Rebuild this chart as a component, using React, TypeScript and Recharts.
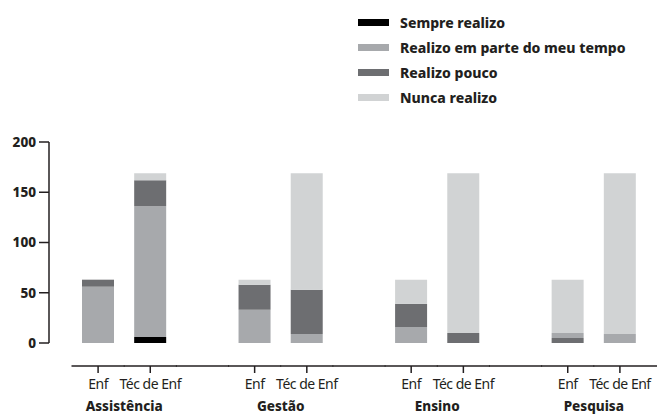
import { BarChart, Bar, XAxis, YAxis } from "recharts";

const groups = ["Assistência", "Gestão", "Ensino", "Pesquisa"];
const roles = ["Enf", "Téc de Enf"];

// one value per bar: Assistência Enf, Assistência Téc, Gestão Enf, Gestão Téc, ...
const sempre = [0, 6, 0, 0, 0, 0, 0, 0];
const poucoBase = [0, 0, 0, 0, 0, 0, 5, 0]; // Pesquisa/Enf draws "pouco" under "parte"
const parte = [56, 130, 33, 9, 16, 0, 5, 9];
const pouco = [7, 26, 25, 44, 23, 10, 0, 0];
const nunca = [0, 7, 5, 116, 24, 159, 53, 160];

const yTicks = [0, 50, 100, 150, 200];

const INK = "#231f20";
const FONT = "'Noto Sans', sans-serif";
const HEAVY = 800;

const series = [
  { key: "sempre", name: "Sempre realizo", color: "#000000", legend: true },
  { key: "poucoBase", name: "Realizo pouco", color: "#6d6e71", legend: false },
  { key: "parte", name: "Realizo em parte do meu tempo", color: "#a7a9ac", legend: true },
  { key: "pouco", name: "Realizo pouco", color: "#6d6e71", legend: true },
  { key: "nunca", name: "Nunca realizo", color: "#d1d3d4", legend: true },
];

type Row = {
  id: string;
  label: string;
  group: string;
  sempre?: number;
  poucoBase?: number;
  parte?: number;
  pouco?: number;
  nunca?: number;
};

const rows: Row[] = [];
groups.forEach((g, gi) => {
  roles.forEach((r, ri) => {
    const i = gi * 2 + ri;
    rows.push({
      id: `${g}-${r}`,
      label: r,
      group: ri === 1 ? g : "",
      sempre: sempre[i],
      poucoBase: poucoBase[i],
      parte: parte[i],
      pouco: pouco[i],
      nunca: nunca[i],
    });
  });
  if (gi < groups.length - 1) rows.push({ id: `gap-${gi}`, label: "", group: "" });
});

function GroupTick(props: any) {
  const { x, y, payload } = props;
  const idx = payload.index ?? props.index;
  const row = rows[idx];
  const off = payload.offset ?? 26;
  const last = idx === rows.length - 1;
  const ly = y + 23;
  return (
    <g>
      <line
        x1={x - off - 0.5}
        x2={x + off + (last ? 11 : 0.5)}
        y1={ly}
        y2={ly}
        stroke={INK}
        strokeWidth={1.5}
      />
      {row.label && (
        <line x1={x} x2={x} y1={ly} y2={ly + 7} stroke={INK} strokeWidth={1.5} />
      )}
      {row.label && (
        <text
          x={x}
          y={y + 46}
          textAnchor="middle"
          fontFamily={FONT}
          fontSize={14}
          letterSpacing={-0.5}
          fill={INK}
        >
          {row.label}
        </text>
      )}
      {row.group && (
        <text
          x={x - off}
          y={y + 68}
          textAnchor="middle"
          fontFamily={FONT}
          fontSize={13.5}
          fontWeight={HEAVY}
          fill={INK}
        >
          {row.group}
        </text>
      )}
    </g>
  );
}

export default function App() {
  return (
    <div
      style={{
        position: "absolute",
        left: 0,
        top: 0,
        width: 657,
        height: 414,
        fontFamily: FONT,
        background: "#fff",
      }}
    >
      <BarChart
        width={657}
        height={414}
        data={rows}
        margin={{ top: 142, right: 11, bottom: 0, left: 0 }}
        barSize={32}
      >
        <XAxis
          dataKey="id"
          interval={0}
          axisLine={false}
          tickLine={false}
          tickSize={0}
          tickMargin={0}
          height={71}
          padding={{ left: 23, right: 0 }}
          tick={<GroupTick />}
        />
        <YAxis
          width={49}
          domain={[0, 200]}
          ticks={yTicks}
          interval={0}
          tickSize={10}
          tickMargin={3}
          axisLine={{ stroke: INK, strokeWidth: 1.5 }}
          tickLine={{ stroke: INK, strokeWidth: 1.5 }}
          tick={{ fill: INK, fontSize: 13.5, fontWeight: HEAVY, fontFamily: FONT }}
        />
        {series.map((s) => (
          <Bar
            key={s.key}
            dataKey={s.key}
            name={s.name}
            stackId="a"
            fill={s.color}
            isAnimationActive={false}
          />
        ))}
      </BarChart>
      <div style={{ position: "absolute", left: 358, top: 10 }}>
        {series
          .filter((s) => s.legend)
          .map((s) => (
            <div
              key={s.key}
              style={{ display: "flex", alignItems: "center", height: 25 }}
            >
              <div style={{ width: 31, height: 7, background: s.color, marginRight: 11 }} />
              <span style={{ fontSize: 14, fontWeight: HEAVY, color: INK }}>{s.name}</span>
            </div>
          ))}
      </div>
    </div>
  );
}
